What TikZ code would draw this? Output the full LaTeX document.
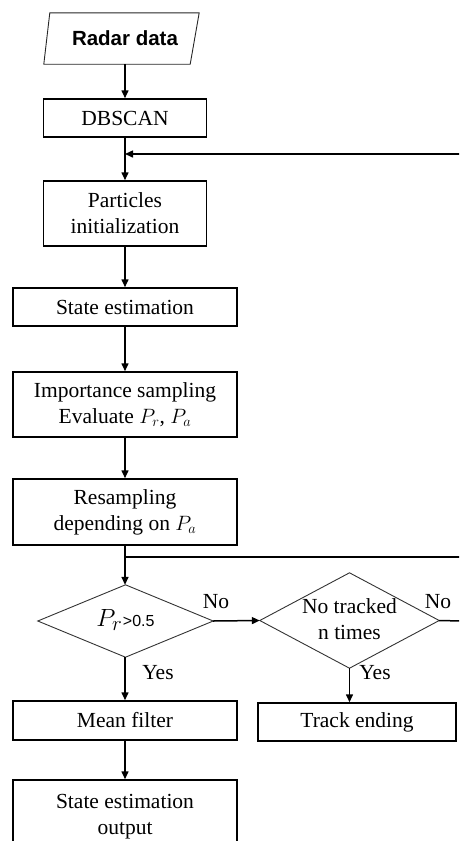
\documentclass[tikz,border=0pt]{standalone}
\usepackage{fontspec}
\setmainfont{Liberation Serif}
\newfontfamily\rsans{Liberation Sans}
\usetikzlibrary{arrows.meta,shapes.geometric,calc}
\begin{document}
\begin{tikzpicture}[x=1pt,y=-1pt,
  font=\fontsize{21.5}{26}\selectfont,
  box/.style={draw=black,line width=1.5pt,rectangle,align=center,inner sep=0pt},
  arr/.style={line width=1.5pt,-{Triangle[length=8pt,width=7pt]}},
  ln/.style={line width=1.5pt},
  lbl/.style={inner sep=0pt}]
\useasboundingbox (0,0) rectangle (459,841);
\clip (0,0) rectangle (459,841);
% input
\node[inner sep=0pt,minimum width=153pt,minimum height=51pt] (radar) at (125,38.5) {\fontsize{20.5}{24}\selectfont\rsans\bfseries Radar data};
\draw[line width=0.9pt,black!85] ([xshift=1.5pt]radar.north west) -- ([xshift=-2.5pt]radar.north east)
  -- ([xshift=-11.5pt]radar.south east) -- ([xshift=-4.5pt]radar.south west) -- cycle;
% boxes
\node[box,minimum width=163pt,minimum height=38pt] (dbscan) at (125,118) {DBSCAN};
\node[box,minimum width=163pt,minimum height=65pt] (part) at (125,213.5) {Particles\\initialization};
\node[box,minimum width=224pt,minimum height=38pt] (state) at (125,307) {State estimation};
\node[box,minimum width=224pt,minimum height=65pt] (imp) at (125,404.5) {Importance sampling\\Evaluate $P_r$, $P_a$};
\node[box,minimum width=224pt,minimum height=66pt] (res) at (125,512) {Resampling\\depending on $P_a$};
% diamonds (drawn as polygons around named nodes)
\node[inner sep=0pt,minimum width=175pt,minimum height=72pt] (d1) at (125.5,621) {};
\draw[line width=0.9pt,black!80] (d1.north) -- (d1.east) -- (d1.south) -- (d1.west) -- cycle;
\node[inner sep=0pt] (d1t) at (125.5,620) {{\fontsize{30}{30}\selectfont$P_r$}\kern0.5pt{\rsans\fontsize{16}{18}\selectfont>0.5}};
\node[inner sep=0pt,minimum width=179pt,minimum height=95pt] (d2) at (349.5,620.5) {};
\draw[line width=0.9pt,black!80] (d2.north) -- (d2.east) -- (d2.south) -- (d2.west) -- cycle;
\node[align=center] (d2t) at ([yshift=1pt]d2.center) {No tracked\\n times};
\node[box,minimum width=224pt,minimum height=39pt] (mean) at (125,720.5) {Mean filter};
\node[box,minimum width=224pt,minimum height=74pt] (out) at (125,817) {State estimation\\output};
\node[box,minimum width=198pt,minimum height=38pt] (track) at (357,722) {Track ending};
% connectors
\draw[arr] (radar.south) -- (dbscan.north);
\draw[arr] (dbscan.south) -- (part.north);
\draw[arr] (part.south) -- (part.south |- state.north);
\draw[arr] (state.south) -- (imp.north);
\draw[arr] (imp.south) -- (res.north);
\draw[arr] (res.south) -- (res.south |- d1.north);
\draw[arr] (res.south |- d1.south) -- (mean.north);
\draw[arr] (mean.south) -- (out.north);
\draw[arr] (d1.east) -- (d2.west);
\draw[arr] (d2.south) -- (d2.south |- track.north);
\coordinate (fbR) at (462,154);
\coordinate (j1) at (125,154);
\draw[arr] (fbR) -- (j1);
\coordinate (j2) at (125,557);
\coordinate (j2R) at (462,557);
\draw[ln] (j2) -- (j2R);
\coordinate (d2R) at (462,621);
\draw[ln] (d2.east) -- (d2R);
% labels
\node[lbl] (no1) at (216,602) {No};
\node[lbl] (no2) at (438,602) {No};
\node[lbl] (yes1) at (158,673) {Yes};
\node[lbl] (yes2) at (375,673) {Yes};
\end{tikzpicture}
\end{document}
